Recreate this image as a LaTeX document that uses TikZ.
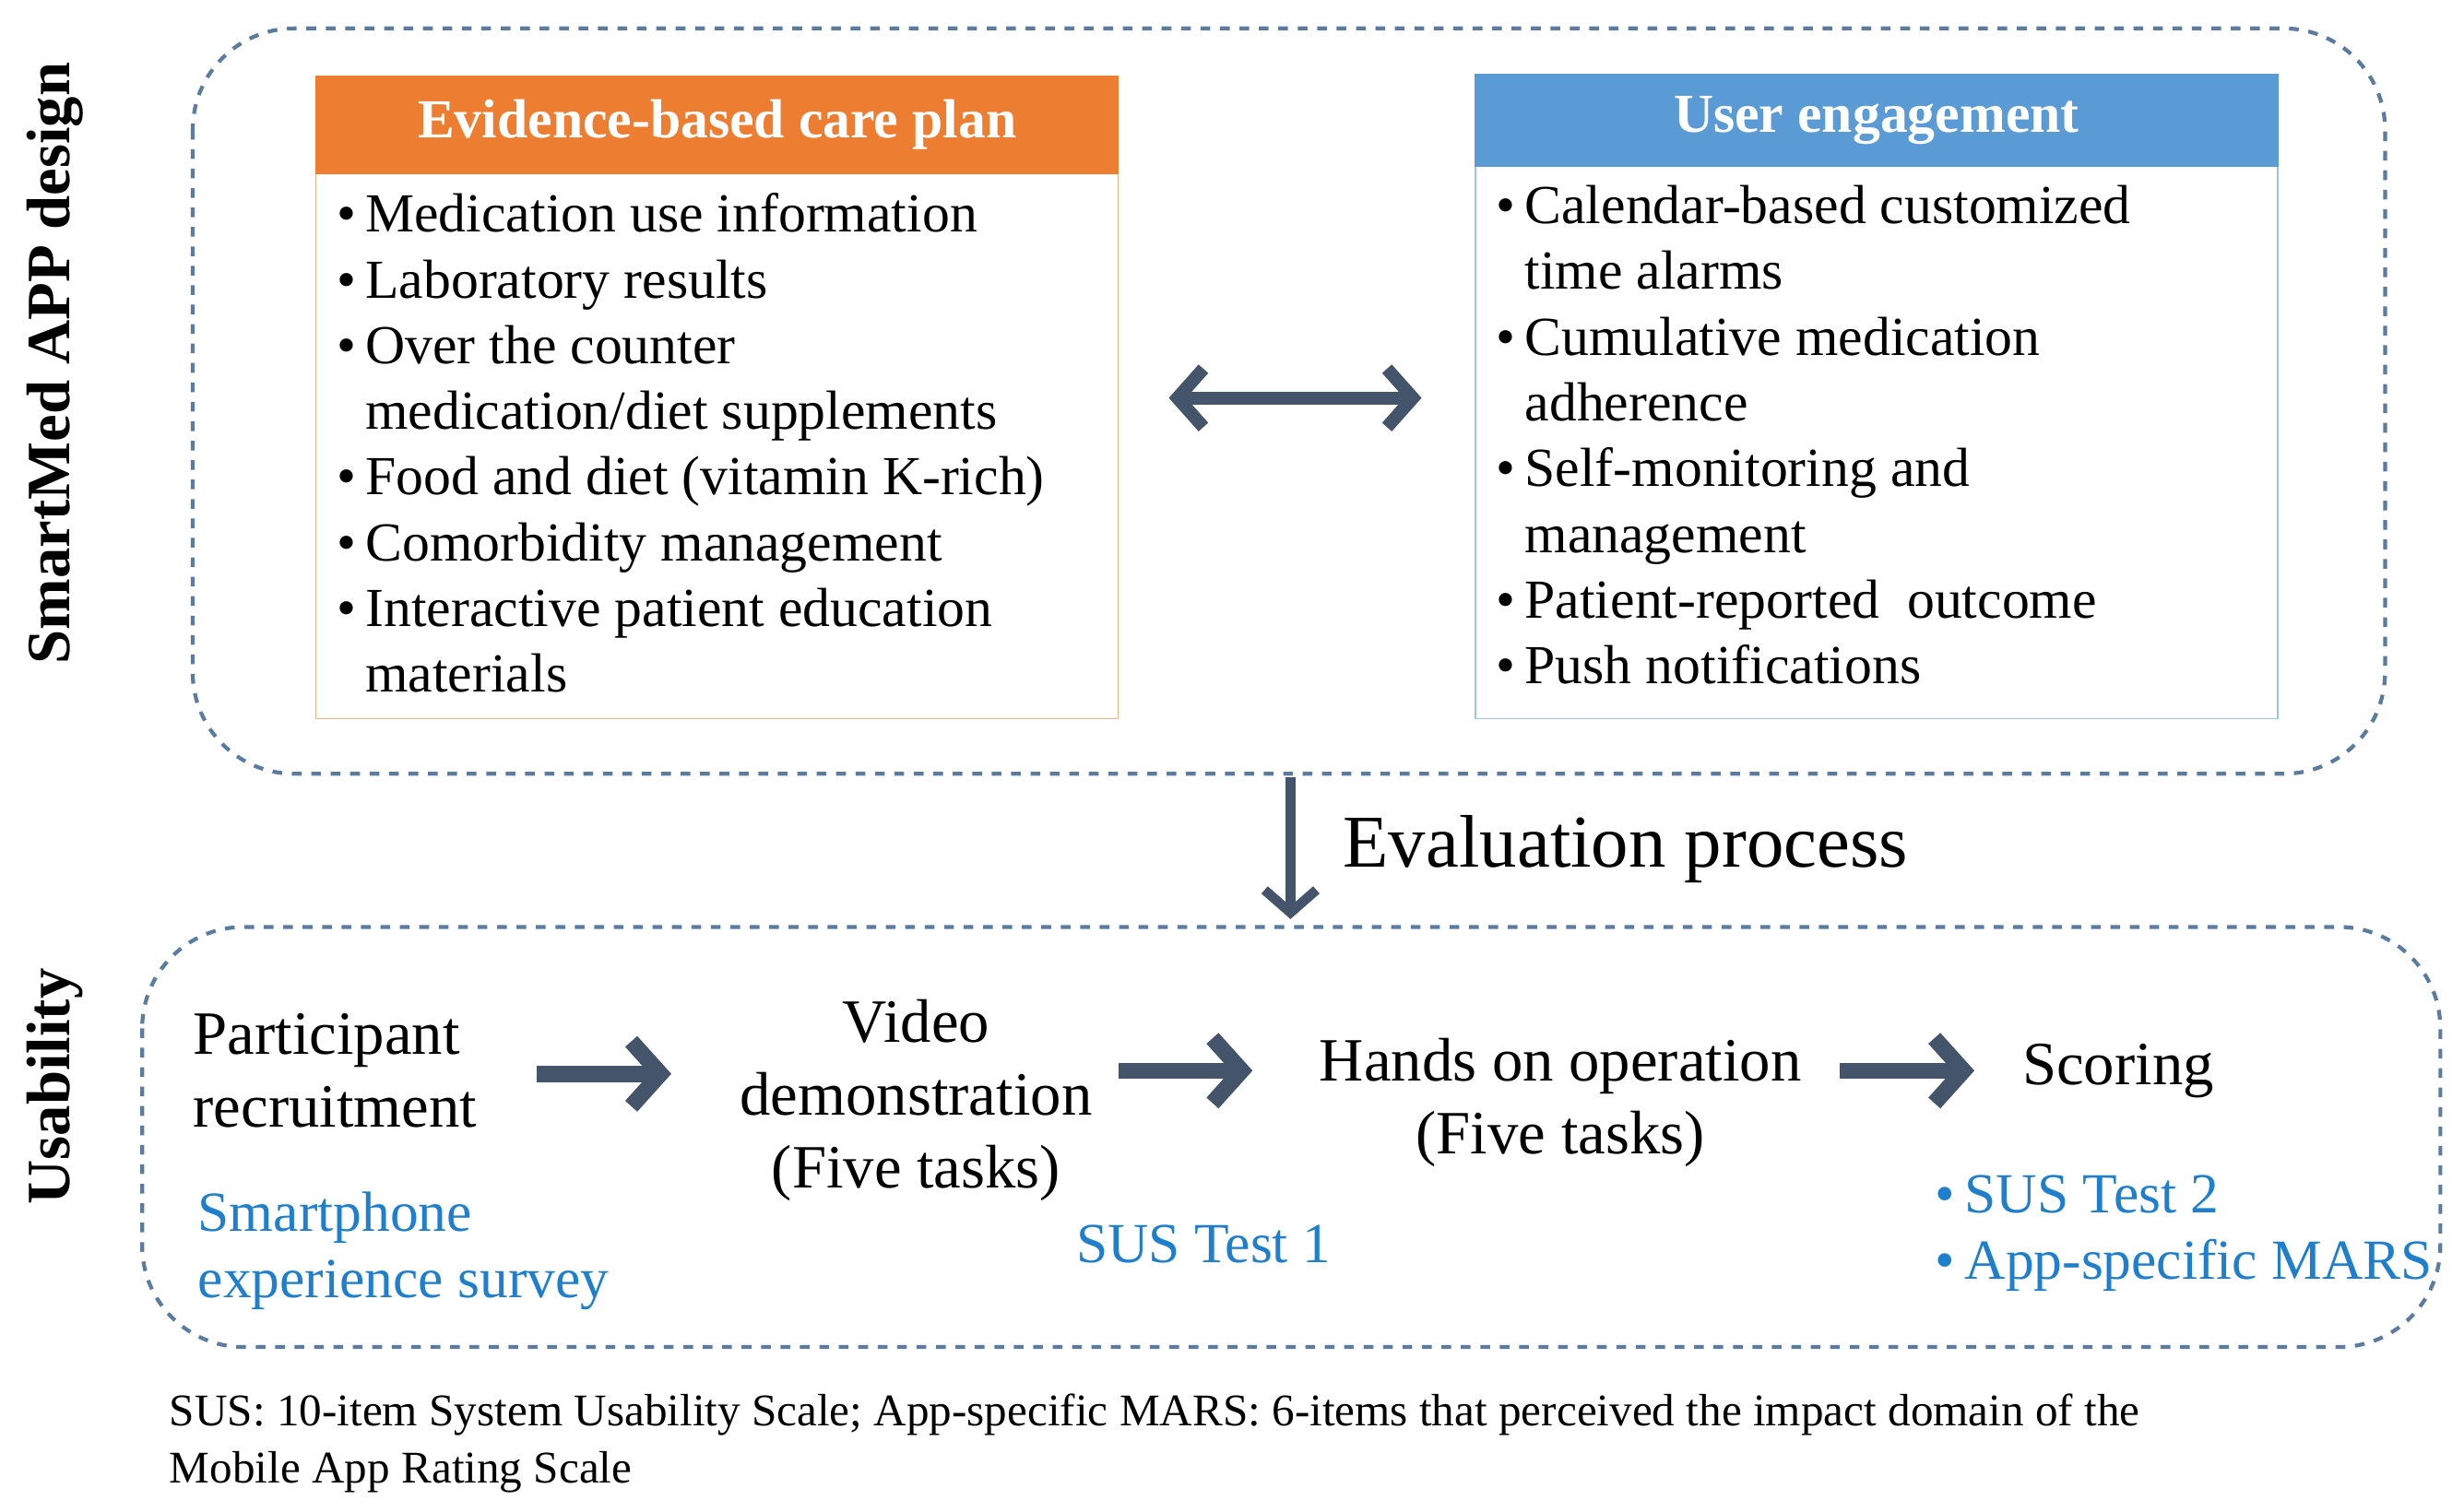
\documentclass[tikz,border=0pt]{standalone}
\usepackage{fontspec}
\setmainfont{Liberation Serif}
\usetikzlibrary{arrows.meta}
\definecolor{dashblue}{HTML}{5B7BA0}
\definecolor{orng}{HTML}{ED7D31}
\definecolor{lblue}{HTML}{5B9BD5}
\definecolor{slate}{HTML}{44546A}
\definecolor{txtblue}{HTML}{1F7FCC}
\tikzstyle{dbox}=[draw=dashblue,dashed,line width=1.2pt,rounded corners=1.1cm]
\tikzstyle{head}=[font=\fontsize{17}{20}\selectfont\bfseries, text=white]
\tikzstyle{lst}=[anchor=north west,align=left,inner sep=0pt,font=\fontsize{17}{20.3}\selectfont]
\tikzstyle{stage}=[align=center,inner sep=0pt,font=\fontsize{19}{22.5}\selectfont]
\tikzstyle{note}=[align=left,inner sep=0pt,text=txtblue,font=\fontsize{17.5}{20.5}\selectfont]
\tikzstyle{fat}=[slate,line width=5pt,-{Straight Barb[length=9pt,width=20pt,line width=5pt]}]
\newcommand{\bl}{\textbullet\,}
\newcommand{\ind}{\phantom{\textbullet\,}}
\begin{document}
\begin{tikzpicture}[x=0.01713cm,y=-0.01713cm]
        \useasboundingbox (0,0) rectangle (1560,957);
        % design part
        \draw[dbox] (122,18) rectangle (1510,490);
        \draw (35,230) node[rotate=90,font=\fontsize{19}{22}\selectfont\bfseries](lbl1){SmartMed APP design};
        \draw[draw=orng!60,fill=white] (200,48) rectangle (708,455);
        \draw[fill=orng,draw=orng] (200,48) rectangle (708,110);
        \draw (454,79) node[head](plan){Evidence-based care plan};
        \draw (213,122) node[lst](planlist){\bl Medication use information\\\bl Laboratory results\\\bl Over the counter\\\ind medication/diet supplements\\\bl Food and diet (vitamin K-rich)\\\bl Comorbidity management\\\bl Interactive patient education\\\ind materials};
        \draw[draw=lblue!60,fill=white] (934,47) rectangle (1442,455);
        \draw[fill=lblue,draw=lblue] (934,47) rectangle (1442,105);
        \draw (1188,76) node[head](eng){User engagement};
        \draw (947,117) node[lst](englist){\bl Calendar-based customized\\\ind time alarms\\\bl Cumulative medication\\\ind adherence\\\bl Self-monitoring and\\\ind management\\\bl Patient-reported\ \ outcome\\\bl Push notifications};
        \coordinate (da) at (740,252);
        \coordinate (db) at (900,252);
        \draw[slate,line width=4pt,{Straight Barb[length=8pt,width=18pt,line width=4pt]}-{Straight Barb[length=8pt,width=18pt,line width=4pt]}] (da) -- (db);
        % evaluation
        \coordinate (ea) at (817,492);
        \coordinate (eb) at (817,582);
        \draw[slate,line width=3pt,-{Straight Barb[length=7pt,width=16pt,line width=3pt]}] (ea) -- (eb);
        \draw (850,538) node[anchor=west,inner sep=0pt,font=\fontsize{23}{26}\selectfont](eval){Evaluation process};
        % usability part
        \draw[dbox] (90,587) rectangle (1545,853);
        \draw (35,688) node[rotate=90,font=\fontsize{19}{22}\selectfont\bfseries](lbl2){Usability};
        \draw (122,678) node[stage,anchor=west,align=left](rec){Participant\\recruitment};
        \draw (580,697) node[stage](vid){Video\\demonstration\\(Five tasks)};
        \draw (988,698) node[stage](hand){Hands on operation\\(Five tasks)};
        \draw (1280,678) node[stage,anchor=west](score){Scoring};
        \draw[fat] (340,680) -- (425,680);
        \draw[fat] (708,678) -- (793,678);
        \draw[fat] (1165,678) -- (1250,678);
        \draw (125,792) node[note,anchor=west](surv){Smartphone\\experience survey};
        \draw (762,788) node[note](sus1){SUS Test 1};
        \draw (1225,781) node[note,anchor=west](sus2){\bl SUS Test 2\\\bl App-specific MARS};
        % caption
        \draw (107,914) node[anchor=west,align=left,inner sep=0pt,font=\fontsize{14}{17.5}\selectfont](cap){SUS: 10-item System Usability Scale; App-specific MARS: 6-items that perceived the impact domain of the\\Mobile App Rating Scale};
\end{tikzpicture}
\end{document}
